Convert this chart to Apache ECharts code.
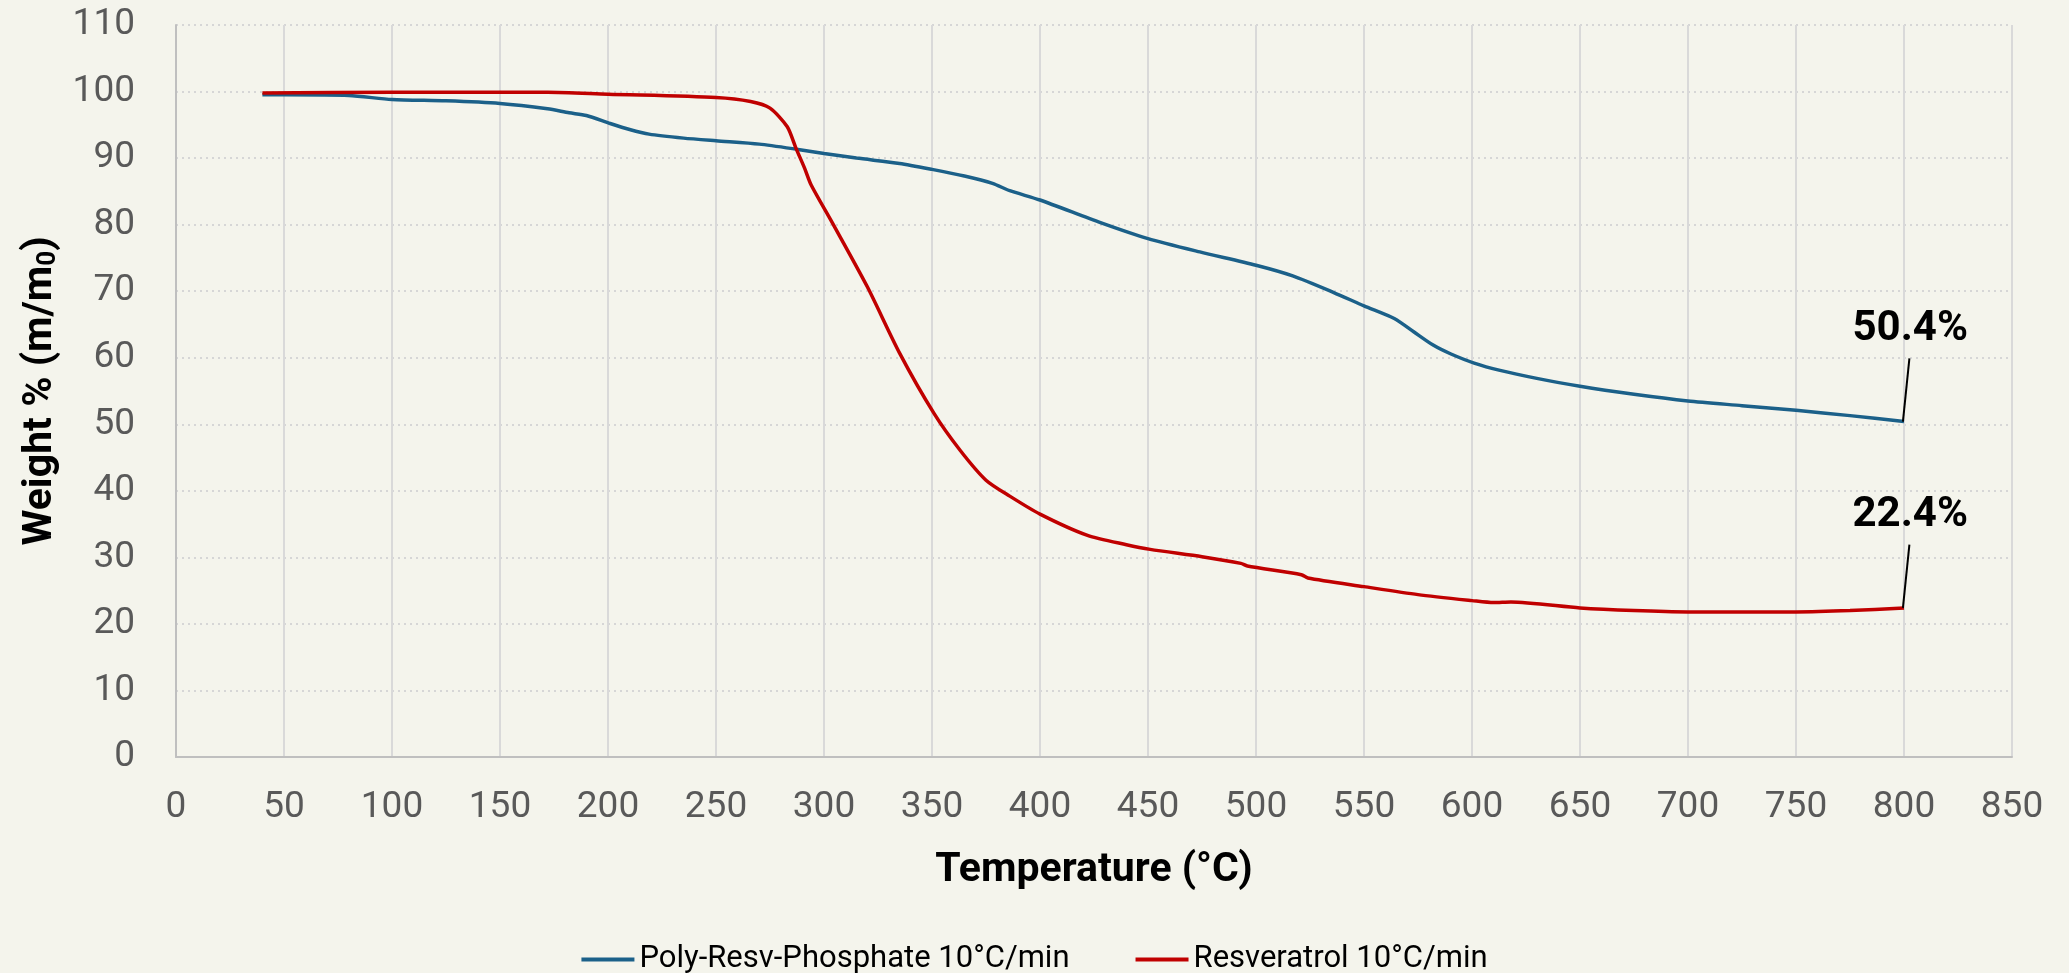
<!DOCTYPE html>
<html>
<head>
<meta charset="utf-8">
<title>TGA</title>
<script src="https://cdn.jsdelivr.net/npm/echarts@6/dist/echarts.min.js"></script>
<style>
html, body { margin: 0; padding: 0; background: #f4f4ec; }
#chart { width: 2069px; height: 973px; }
</style>
</head>
<body>
<div id="chart"></div>
<script>
// 数据：温度 (°C) / 失重 (%)
const seriesNames = ['Poly-Resv-Phosphate 10°C/min', 'Resveratrol 10°C/min']
const polyTemp = [40, 50, 80, 100, 125, 150, 172, 182, 190, 201, 210, 219, 235, 250, 270, 288, 300, 315, 335, 350, 365, 378, 386, 400, 428, 450, 474, 500, 517, 536, 550, 564, 573, 582, 590, 601, 613, 630, 650, 675, 700, 725, 750, 775, 800]
const polyWeight = [99.5, 99.5, 99.4, 98.8, 98.6, 98.2, 97.4, 96.8, 96.4, 95.2, 94.3, 93.6, 93.0, 92.6, 92.1, 91.3, 90.7, 90.0, 89.2, 88.3, 87.3, 86.2, 85.1, 83.7, 80.3, 77.9, 75.9, 73.9, 72.3, 69.8, 67.8, 65.9, 63.9, 61.9, 60.6, 59.2, 58.1, 56.9, 55.7, 54.5, 53.5, 52.8, 52.1, 51.3, 50.4]
const resvTemp = [40, 100, 172, 200, 250, 266, 275, 283, 287, 291, 294, 304, 320, 335, 351, 363, 375, 386, 400, 422, 440, 451, 475, 493, 496, 521, 524, 550, 575, 600, 610, 618, 650, 675, 700, 750, 775, 800]
const resvWeight = [99.8, 99.9, 99.9, 99.6, 99.1, 98.5, 97.5, 94.7, 91.5, 88.5, 86.0, 80.2, 70.7, 60.7, 51.6, 46.1, 41.6, 39.2, 36.5, 33.3, 31.9, 31.2, 30.1, 29.1, 28.7, 27.4, 26.9, 25.6, 24.4, 23.5, 23.2, 23.3, 22.4, 22.0, 21.8, 21.8, 22.0, 22.4]
const endLabels = ['50.4%', '22.4%']
const colors = ['#1b6089', '#c00000']

const chart = echarts.init(document.getElementById('chart'))

function lineSeries (idx, temps, weights) {
    const lastT = temps[temps.length - 1]
    const lastW = weights[weights.length - 1]
    return {
        name: seriesNames[idx],
        type: 'line',
        data: temps.map(function (t, i) { return [t, weights[i]] }),
        smooth: 0.25,
        showSymbol: false,
        lineStyle: { width: 3.5, color: colors[idx] },
        itemStyle: { color: colors[idx] },
        emphasis: { disabled: true },
        markLine: { // 末端标注引线
            silent: true,
            symbol: 'none',
            animation: false,
            lineStyle: { color: '#000', width: 2, type: 'solid' },
            label: {
                show: true,
                position: 'end',
                distance: 8,
                formatter: endLabels[idx],
                color: '#000',
                fontFamily: 'Roboto',
                fontWeight: 'bold',
                fontSize: 42
            },
            data: [[
                { coord: [lastT - 0.5, lastW] },
                { coord: [lastT + 2.5, lastW + 9.5] }
            ]]
        },
        z: idx === 0 ? 3 : 4
    }
}

const option = {
    backgroundColor: '#f4f4ec',
    animation: false,
    textStyle: { fontFamily: 'Roboto' },
    grid: { left: 176, right: 57, top: 25, bottom: 216 },
    legend: {
        top: 944,
        left: 'center',
        padding: 0,
        itemWidth: 53,
        itemHeight: 4,
        itemGap: 66,
        icon: 'rect',
        textStyle: { fontSize: 31, lineHeight: 26, color: '#000', fontFamily: 'Roboto' },
        data: seriesNames
    },
    xAxis: {
        type: 'value',
        min: 0,
        max: 850,
        interval: 50,
        name: 'Temperature (°C)',
        nameLocation: 'middle',
        nameGap: 93,
        nameTextStyle: { fontSize: 41, fontWeight: 'bold', color: '#000' },
        axisLine: { show: true, lineStyle: { color: '#bfbfbf', width: 2 } },
        axisTick: { show: false },
        axisLabel: { fontSize: 37, color: '#595959', margin: 32 },
        splitLine: { show: true, lineStyle: { color: '#d9d9d9', width: 2 } }
    },
    yAxis: {
        type: 'value',
        min: 0,
        max: 110,
        interval: 10,
        name: '{a|Weight % (m/m}{b|0}{a|)}',
        nameLocation: 'middle',
        nameGap: 106,
        nameRotate: 90,
        nameTextStyle: {
            rich: {
                a: { fontSize: 41, fontWeight: 'bold', color: '#000', fontFamily: 'Roboto' },
                b: { fontSize: 26, fontWeight: 'bold', color: '#000', fontFamily: 'Roboto', padding: [16, 0, 0, 0] }
            }
        },
        axisLine: { show: true, lineStyle: { color: '#bfbfbf', width: 2 } },
        axisTick: { show: false },
        axisLabel: { fontSize: 37, color: '#595959', margin: 41 },
        splitLine: { show: true, lineStyle: { color: '#d6d6d6', width: 2, type: [2, 4] } }
    },
    series: [
        lineSeries(0, polyTemp, polyWeight),
        lineSeries(1, resvTemp, resvWeight)
    ]
}

chart.setOption(option)
</script>
</body>
</html>
